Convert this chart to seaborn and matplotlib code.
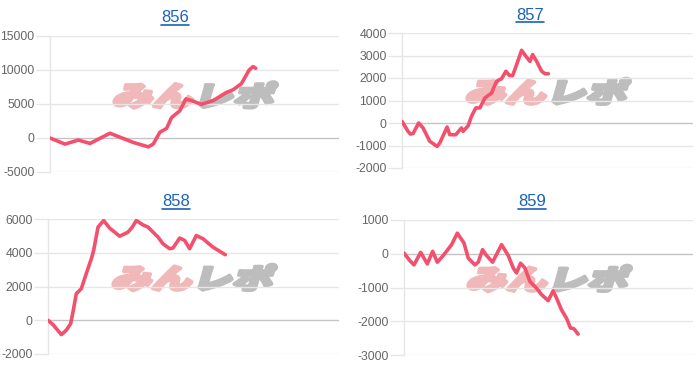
import numpy as np
import pandas as pd
import matplotlib
matplotlib.use("Agg")
import matplotlib.pyplot as plt
import seaborn as sns
from matplotlib.textpath import TextPath
from matplotlib.font_manager import FontProperties
from matplotlib.patches import PathPatch
from matplotlib.lines import Line2D
import matplotlib.transforms as mtransforms

# ---------------- data ----------------
titles = ["856", "857", "858", "859"]

games_856 = [0, 415, 783, 1106, 1659, 2304, 2719, 2857, 3042, 3226, 3364, 3594, 3760, 3917,
             4194, 4516, 4885, 5069, 5300, 5512, 5622, 5696]
diff_856 = [0, -900, -300, -800, 700, -650, -1300, -900, 850, 1400, 3000, 4000, 5750, 5500,
            4950, 5500, 6700, 7100, 8000, 10000, 10500, 10250]

games_857 = [0, 165, 230, 303, 459, 579, 762, 964, 1038, 1240, 1313, 1479, 1635, 1681, 1819,
             1911, 2030, 2140, 2278, 2462, 2600, 2737, 2857, 2949, 3040, 3150, 3288, 3408,
             3518, 3591, 3702, 3839, 3931, 4023]
diff_857 = [70, -370, -490, -470, 0, -220, -810, -1040, -890, -180, -520, -520, -220, -370,
            -120, 300, 670, 670, 1110, 1330, 1850, 1970, 2300, 2120, 2100, 2590, 3230, 2960,
            2740, 3040, 2740, 2300, 2190, 2190]

games_858 = [0, 137, 367, 504, 623, 687, 779, 916, 1036, 1191, 1255, 1375, 1530, 1695, 1833,
             1970, 2199, 2318, 2428, 2611, 2749, 3024, 3161, 3345, 3436, 3619, 3757, 3894,
             4077, 4261, 4536, 4875]
diff_858 = [0, -260, -850, -590, -200, 490, 1580, 1870, 2660, 3640, 4140, 5520, 5910, 5460,
            5220, 4980, 5220, 5520, 5910, 5650, 5520, 4930, 4530, 4240, 4280, 4870, 4730,
            4240, 5020, 4830, 4330, 3880]

games_859 = [0, 166, 277, 461, 645, 793, 922, 1088, 1318, 1475, 1659, 1779, 1963, 2055, 2175,
             2267, 2452, 2700, 2885, 3023, 3115, 3226, 3346, 3484, 3668, 3806, 3991, 4129,
             4221, 4359, 4498, 4608, 4700, 4820]
diff_859 = [20, -210, -330, 40, -300, 70, -250, -50, 270, 610, 320, -130, -330, -250, 120,
            -30, -250, 270, -50, -420, -570, -280, -420, -820, -1020, -1210, -1390, -1100,
            -1310, -1660, -1910, -2200, -2220, -2380]

yticks_856 = [-5000, 0, 5000, 10000, 15000]
yticks_857 = [-2000, -1000, 0, 1000, 2000, 3000, 4000]
yticks_858 = [-2000, 0, 2000, 4000, 6000]
yticks_859 = [-3000, -2000, -1000, 0, 1000]

x_max = 8000

series = [
    (games_856, diff_856, yticks_856),
    (games_857, diff_857, yticks_857),
    (games_858, diff_858, yticks_858),
    (games_859, diff_859, yticks_859),
]

# ---------------- layout (pixels) ----------------
W, H = 700, 370
# (left, right, top, bottom) in pixel coords from top-left
boxes = [(50, 339, 36, 172), (402, 693, 33, 168), (48, 339, 219, 354), (404, 693, 220, 355)]
title_pos = [(175, 18), (530, 15), (176, 202), (532, 202)]

sns.set_theme(style="white")
plt.rcParams["font.family"] = ["Liberation Sans", "DejaVu Sans"]

fig = plt.figure(figsize=(W / 100, H / 100), dpi=100)
fig.patch.set_facecolor("white")

line_color = "#f2506d"
grid_color = "#e6e6e6"
zero_color = "#c4c4c4"
tick_text = "#666666"
title_color = "#1b62b8"

jp_font = FontProperties(family="Noto Sans CJK JP", weight="black")


def add_watermark(cx, cy, width, height):
    p1 = TextPath((0, 0), "みん", size=1, prop=jp_font)
    p2 = TextPath((2.0, 0), "レポ", size=1, prop=jp_font)
    verts = np.vstack([p1.vertices, p2.vertices])
    x0, y0 = verts.min(axis=0)
    x1, y1 = verts.max(axis=0)
    sx = width / (x1 - x0)
    sy = height / (y1 - y0)
    tr = (mtransforms.Affine2D()
          .translate(-(x0 + x1) / 2, -(y0 + y1) / 2)
          .scale(sx, sy)
          .skew_deg(16, 0)
          .translate(cx, H - cy))
    for p, c in ((p1, "#f0b8b8"), (p2, "#bdbdbd")):
        patch = PathPatch(p, facecolor=c, edgecolor=c, lw=2.6, joinstyle="round",
                          transform=tr + mtransforms.IdentityTransform(), zorder=0)
        fig.add_artist(patch)


title_artists = []
for i, ((gx, gy, yt), (l, r, t, b)) in enumerate(zip(series, boxes)):
    # watermark behind
    add_watermark((l + r) / 2, (t + b) / 2 - 9, 160, 26)

    ax = fig.add_axes([l / W, 1 - b / H, (r - l) / W, (b - t) / H])
    ax.set_facecolor("none")
    ax.set_zorder(2)
    df = pd.DataFrame({"games": gx, "diff": gy})
    sns.lineplot(data=df, x="games", y="diff", ax=ax, color=line_color, linewidth=2.6,
                 sort=False, zorder=5)
    ax.set_xlim(0, x_max)
    ax.set_ylim(yt[0], yt[-1])
    ax.set_yticks(yt)
    ax.set_yticklabels([str(v) for v in yt])
    ax.set_xticks([])
    ax.set_xlabel("")
    ax.set_ylabel("")
    for s in ["top", "right", "bottom"]:
        ax.spines[s].set_visible(False)
    ax.spines["left"].set_color(grid_color)
    ax.spines["left"].set_linewidth(1)
    ax.tick_params(axis="y", length=10, width=1, color=grid_color, pad=1,
                   labelsize=8.8, labelcolor=tick_text, left=True)
    for v in yt:
        c = zero_color if v == 0 else grid_color
        ax.axhline(v, color=c, lw=1, zorder=1)
    for tk, v in zip(ax.yaxis.get_major_ticks(), yt):
        if v == 0:
            tk.tick1line.set_color(zero_color)

    tx, ty = title_pos[i]
    txt = fig.text(tx / W, 1 - ty / H, titles[i], ha="center", va="center",
                   fontsize=12, color=title_color)
    title_artists.append(txt)

fig.canvas.draw()
renderer = fig.canvas.get_renderer()
for txt in title_artists:
    bb = txt.get_window_extent(renderer)
    yline = bb.y0 + 1.0
    fig.add_artist(Line2D([bb.x0, bb.x1], [yline, yline], color=title_color, lw=1.2,
                          transform=mtransforms.IdentityTransform()))

fig.savefig("out.png", dpi=100, facecolor="white")
